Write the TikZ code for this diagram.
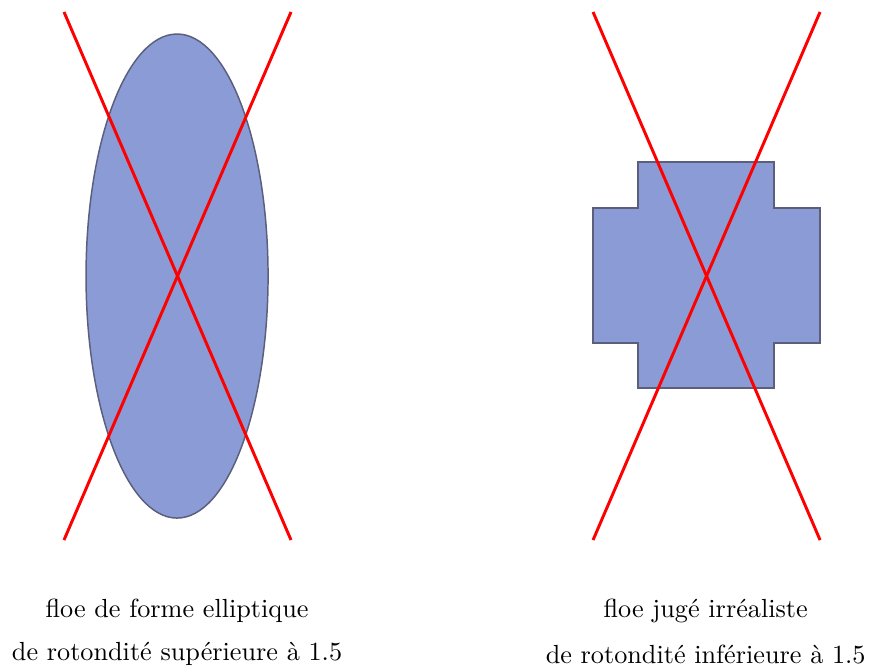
\documentclass[tikz,border=0pt]{standalone}
\usepackage{tikz}
\definecolor{bleuFloe}{HTML}{8A9BD5}
\definecolor{bordFloe}{HTML}{5B5F7C}
\definecolor{rougeX}{HTML}{FF0000}

\begin{document}
\begin{tikzpicture}
  \tikzset{floe/.style={fill=bleuFloe,draw=bordFloe,line width=0.6pt},
           barre/.style={rougeX,line width=1.2pt},
           legende/.style={align=center,font=\fontsize{10.65}{13}\selectfont}}
  \useasboundingbox (0,0) rectangle (12.47,9.557);
  % floe elliptique
  \draw[floe] (2.529,5.614) ellipse (1.3 and 3.457);
  \draw[barre] (0.914,9.386) -- (4.157,1.843);
  \draw[barre] (4.157,9.386) -- (0.914,1.843);
  % floe en croix
  \draw[floe] (9.114,7.243) -- (11.057,7.243) -- (11.057,6.586) -- (11.714,6.586)
        -- (11.714,4.657) -- (11.057,4.657) -- (11.057,4.014) -- (9.114,4.014)
        -- (9.114,4.657) -- (8.471,4.657) -- (8.471,6.586) -- (9.114,6.586) -- cycle;
  \draw[barre] (8.471,9.386) -- (11.714,1.843);
  \draw[barre] (11.714,9.386) -- (8.471,1.843);
  % legendes
  \node[legende] (leg1a) at (2.529,0.829) {floe de forme elliptique};
  \node[legende] (leg1b) at (2.529,0.214) {de rotondité supérieure à 1.5};
  \node[legende] (leg2a) at (10.08,0.829) {floe jugé irréaliste};
  \node[legende] (leg2b) at (10.08,0.214) {de rotondité inférieure à 1.5};
\end{tikzpicture}
\end{document}
